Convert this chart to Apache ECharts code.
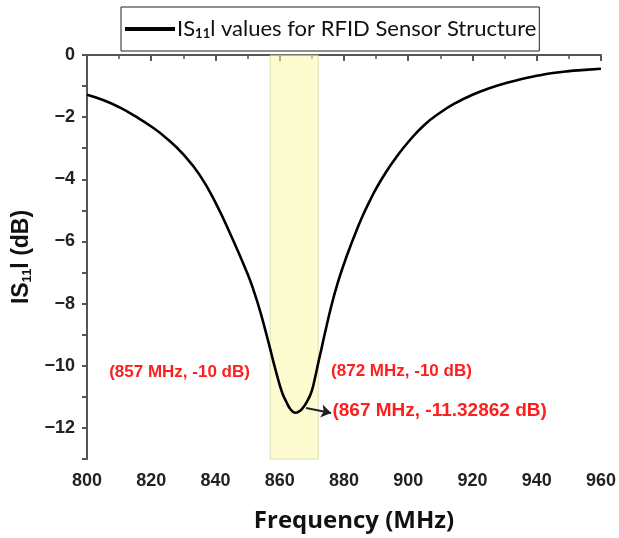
<!DOCTYPE html>
<html>
<head>
<meta charset="utf-8">
<script src="https://cdn.jsdelivr.net/npm/echarts@6/dist/echarts.min.js"></script>
<style>html,body{margin:0;padding:0;background:#fff;}#c{width:619px;height:538px;}</style>
</head>
<body>
<div id="c"></div>
<script>
// Data
const freqMHz = [800,805,810,815,820,825,830,835,840,845,850,852,854,856,857,858,859,860,861,862,863,864,865,866,867,868,869,870,871,872,873,874,876,878,880,882,884,886,888,890,893,896,900,905,910,915,920,925,930,935,940,945,950,955,960];
const s11dB   = [-1.28,-1.45,-1.68,-1.97,-2.3,-2.7,-3.2,-3.85,-4.75,-5.85,-7.05,-7.62,-8.28,-9.05,-9.45,-9.86,-10.25,-10.62,-10.93,-11.15,-11.35,-11.47,-11.51,-11.47,-11.38,-11.24,-11.05,-10.8,-10.38,-9.9,-9.45,-8.98,-8.1,-7.35,-6.72,-6.15,-5.62,-5.13,-4.7,-4.3,-3.78,-3.33,-2.8,-2.25,-1.85,-1.53,-1.28,-1.08,-0.92,-0.78,-0.67,-0.58,-0.52,-0.48,-0.44];
const bandMHz = [857, 872];
const xTicks = {min: 800, max: 960, interval: 20};
const yTicks = {min: -13, max: 0, interval: 1};
const annotations = [
  {text: '(857 MHz, -10 dB)', x: 828.8, y: -10.2, align: 'center', size: 17},
  {text: '(872 MHz, -10 dB)', x: 897.9, y: -10.17, align: 'center', size: 17},
  {text: '(867 MHz, -11.32862 dB)', x: 876.4, y: -11.45, align: 'left', size: 19}
];
const arrowFrom = [868.2, -11.36];
const arrowTo = [876.0, -11.52];

const chart = echarts.init(document.getElementById('c'), null, {renderer: 'canvas'});
const tickFont = {fontFamily: '"Liberation Sans", Arial, sans-serif', fontWeight: 'bold', fontSize: 18, color: '#222'};
const axisCol = '#555';

const option = {
  backgroundColor: '#fff',
  animation: false,
  grid: {left: 87, right: 16, top: 55, bottom: 78},
  legend: {
    left: 121, top: 7,
    padding: [11, 3, 11, 4],
    borderColor: '#222', borderWidth: 1,
    itemWidth: 50, itemHeight: 4, icon: 'rect', itemGap: 0,
    data: ['s11'],
    formatter: () => '{a|IS}{s|11}{a|l values for RFID Sensor Structure}',
    textStyle: {
      padding: [0, 0, 0, -3],
      rich: {
        a: {fontFamily: 'Lato, "Open Sans", sans-serif', fontSize: 22, color: '#111'},
        s: {fontFamily: 'Lato, "Open Sans", sans-serif', fontSize: 13, fontWeight: 'bold', color: '#111', padding: [9, 0, 0, 0]}
      }
    }
  },
  xAxis: {
    type: 'value', min: xTicks.min, max: xTicks.max, interval: xTicks.interval,
    name: 'Frequency (MHz)', nameLocation: 'middle', nameGap: 50,
    nameTextStyle: {fontFamily: '"Open Sans", sans-serif', fontWeight: 'bold', fontSize: 24, color: '#111', padding: [0, 0, 0, 20]},
    axisLine: {show: true, lineStyle: {color: axisCol, width: 2}},
    axisTick: {show: true, inside: false, length: 6, lineStyle: {color: axisCol, width: 2}},
    minorTick: {show: true, splitNumber: 2, length: 4, lineStyle: {color: axisCol, width: 1.5}},
    axisLabel: Object.assign({margin: 13}, tickFont),
    splitLine: {show: false}
  },
  yAxis: {
    type: 'value', min: yTicks.min, max: yTicks.max, interval: yTicks.interval,
    name: '{a|IS}{s|11}{a|l (dB)}', nameLocation: 'middle', nameGap: 53, nameRotate: 90,
    nameTextStyle: {
      rich: {
        a: {fontFamily: '"Liberation Sans", Arial, sans-serif', fontWeight: 'bold', fontSize: 23, color: '#111'},
        s: {fontFamily: '"Liberation Sans", Arial, sans-serif', fontWeight: 'bold', fontSize: 13, color: '#111', padding: [10, 0, 0, 0]}
      }
    },
    axisLine: {show: true, lineStyle: {color: axisCol, width: 2}},
    axisTick: {show: true, inside: false, length: 5, lineStyle: {color: axisCol, width: 2}},
    axisLabel: Object.assign({margin: 12,
      formatter: v => (Math.round(v) % 2 === 0) ? (v < 0 ? '\u2212' + Math.abs(v) : String(v)) : ''}, tickFont),
    splitLine: {show: false}
  },
  series: [
    {
      name: 's11', type: 'line', smooth: 0.5, showSymbol: false, z: 2,
      data: freqMHz.map((f, i) => [f, s11dB[i]]),
      lineStyle: {color: '#000', width: 2.6},
      itemStyle: {color: '#000'},
      markLine: {
        silent: true, symbol: ['none', 'arrow'], symbolSize: [10, 10],
        label: {show: false},
        lineStyle: {color: '#222', width: 2, type: 'solid'},
        data: [[{coord: arrowFrom}, {coord: arrowTo}]]
      }
    },
    {
      name: 'band', type: 'line', data: [], z: 3,
      markArea: {
        silent: true,
        itemStyle: {color: 'rgba(250,250,170,0.55)', borderColor: 'rgba(200,200,150,0.6)', borderWidth: 1},
        data: [[{xAxis: bandMHz[0]}, {xAxis: bandMHz[1]}]]
      }
    }
  ]
};
chart.setOption(option);

const g = annotations.map(a => {
  const p = chart.convertToPixel({gridIndex: 0}, [a.x, a.y]);
  return {
    type: 'text', x: p[0], y: p[1], z: 10,
    style: {text: a.text, fill: '#ff1e1e', fontFamily: '"Liberation Sans", Arial, sans-serif', fontWeight: 'bold', fontSize: a.size, align: a.align, verticalAlign: 'middle'}
  };
});
chart.setOption({graphic: g});
</script>
</body>
</html>
